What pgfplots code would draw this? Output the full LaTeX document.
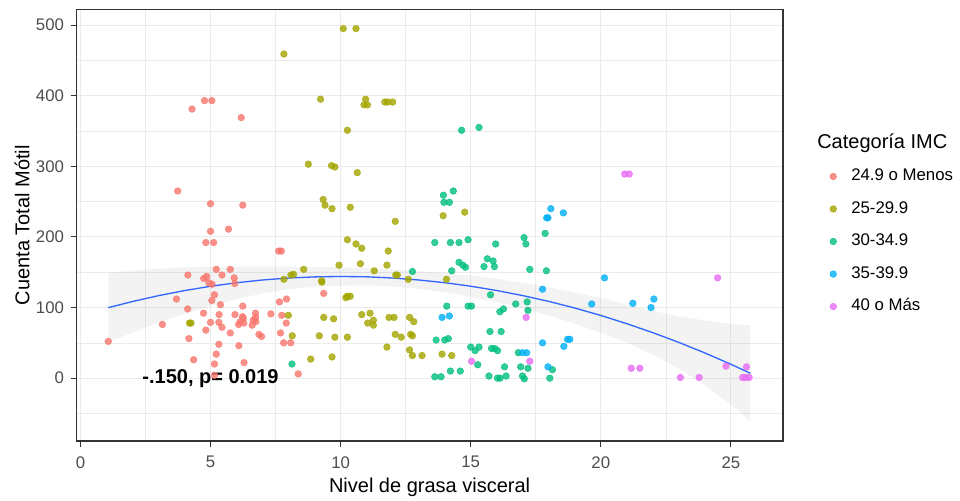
\documentclass[border=0pt]{standalone}
\usepackage{fontspec}
\setmainfont{Liberation Sans}
\usepackage{pgfplots}
\pgfplotsset{compat=1.18}
\usepgfplotslibrary{fillbetween}

\definecolor{imcA}{HTML}{F8766D}
\definecolor{imcB}{HTML}{A3A500}
\definecolor{imcC}{HTML}{00BF7D}
\definecolor{imcD}{HTML}{00B0F6}
\definecolor{imcE}{HTML}{E76BF3}
\definecolor{gridc}{HTML}{EBEBEB}
\definecolor{framec}{HTML}{333333}
\definecolor{tickc}{HTML}{4D4D4D}
\definecolor{smoothc}{HTML}{3366FF}

\pgfplotsset{
  pts/.style={only marks, mark=*, mark size=2.5pt, color=#1, opacity=0.8},
}

\begin{document}
\begin{tikzpicture}
\begin{axis}[
  at={(57.2pt,44.25pt)}, anchor=south west,
  scale only axis, width=530pt, height=323.6pt,
  xmin=-0.16, xmax=27.0, ymin=-89, ymax=522,
  xtick={0,5,...,25}, ytick={0,100,...,500},
  minor xtick={2.5,7.5,...,22.5}, minor ytick={-50,50,...,450},
  grid=both,
  major grid style={gridc, line width=0.8pt},
  minor grid style={gridc, line width=0.45pt},
  axis line style={framec, line width=0.8pt},
  tick align=outside, major tick length=4.2pt, minor tick length=0pt,
  tick style={framec, line width=0.8pt},
  xtick pos=lower, ytick pos=left,
  tick label style={font=\fontsize{12.6}{15}\selectfont, text=tickc},
  xticklabel style={yshift=-3.75pt},
  yticklabel style={xshift=-1.5pt},
  /pgf/number format/assume math mode=true,
  xlabel={Nivel de grasa visceral}, ylabel={Cuenta Total Mótil},
  label style={font=\fontsize{15}{18}\selectfont},
  xlabel style={at={(axis description cs:0.5,-0.1066)}, anchor=center},
  ylabel style={at={(axis description cs:-0.0768,0.5)}, anchor=center},
  legend style={draw=none, fill=none, at={(axis description cs:1.0661,0.4623)},
    anchor=west, font=\fontsize{12.6}{15}\selectfont, inner sep=0pt,
    nodes={text height=9pt, text depth=2.5pt, inner ysep=0pt, inner xsep=0pt},
    row sep=12.9pt, column sep=11pt},
  legend cell align=left,
]

% confidence band of the quadratic fit
\addplot[name path=up, draw=none, forget plot] coordinates {
  (1.07,148.8) (2,152.5) (3,154.8) (4,157.0) (5,158.1) (6,158.1) (7,158.0)
  (8,157.8) (9,157.4) (10,157.0) (11,155.5) (12,153.8) (13,151.5) (14,148.7)
  (15,145.2) (16,140.6) (17,134.9) (18,128.7) (19,121.3) (20,113.3) (21,104.1)
  (22,95.4) (23,87.6) (24,81.7) (25,76.6) (25.75,74.9)};
\addplot[name path=lo, draw=none, forget plot] coordinates {
  (1.07,50.8) (2,64.5) (3,78.8) (4,91.0) (5,102.1) (6,112.1) (7,120.0)
  (8,125.8) (9,129.4) (10,131.0) (11,131.5) (12,129.8) (13,126.5) (14,121.7)
  (15,115.2) (16,107.6) (17,98.9) (18,88.7) (19,77.3) (20,64.3) (21,50.1)
  (22,33.4) (23,13.6) (24,-10.3) (25,-37.4) (25.75,-61.1)};
\addplot[black!40, fill opacity=0.12, draw=none, forget plot] fill between[of=up and lo];

% 24.9 o Menos
\addplot[pts=imcA] coordinates {
  (4.29,381) (4.77,393) (5.05,393) (6.18,369) (3.74,265) (5.0,247) (6.24,245)
  (5.0,208) (5.69,211) (4.82,192) (5.12,192) (7.62,180) (7.72,180)
  (5.22,154) (5.76,154) (4.13,146) (4.85,144) (4.74,141) (4.94,135) (5.06,133)
  (5.44,146) (5.91,142) (5.93,134) (5.15,118) (3.69,112) (5.05,110) (5.38,104)
  (6.24,102) (4.12,98) (4.73,92) (5.33,90) (5.94,90) (6.23,87) (6.26,85)
  (6.08,76) (6.14,80) (6.28,78) (6.73,92) (6.73,86) (6.64,82) (6.74,80) (6.6,75)
  (7.32,91) (7.65,108) (7.92,112) (7.74,89) (7.91,78) (3.15,76) (5.0,79)
  (5.32,79) (5.44,72) (4.82,68) (4.17,56) (5.76,64) (6.86,62) (6.96,59)
  (7.69,64) (7.81,50) (8.08,50) (5.32,48) (6.09,46) (5.22,34) (4.35,26)
  (5.15,20) (6.29,22) (5.15,4) (8.37,6) (1.07,52) (9.35,120)};
\addlegendentry{24.9 o Menos}

% 25-29.9
\addplot[pts=imcB] coordinates {
  (7.82,459) (8.76,303) (10.1,495) (10.59,495) (9.23,395) (10.96,395) (10.9,387)
  (11.03,387) (11.7,391) (11.8,391) (12.0,391) (10.26,351) (9.65,301) (9.78,299)
  (10.64,291) (9.33,253) (9.4,245) (9.67,240) (10.37,242) (12.1,222) (13.94,230)
  (14.77,235) (10.26,196) (10.59,190) (10.81,184) (11.83,180) (9.94,160)
  (10.76,162) (11.29,152) (11.78,160) (8.58,154) (8.09,146) (8.19,147) (7.82,140)
  (9.27,138) (9.28,136) (12.12,146) (12.18,146) (12.6,140) (14.07,140)
  (10.2,114) (10.26,116) (10.37,116) (7.99,89) (9.35,86) (9.73,84) (10.81,90)
  (11.13,92) (11.04,78) (11.26,82) (11.26,75) (11.86,86) (12.05,86) (12.65,86)
  (12.81,80) (4.19,78) (4.25,78) (8.14,60) (9.18,60) (9.78,58) (10.26,58)
  (12.1,62) (12.33,58) (12.69,62) (12.76,60) (11.78,44) (12.65,40) (12.76,32)
  (13.13,32) (13.9,34) (14.27,32) (8.85,27) (9.67,30)};
\addlegendentry{25-29.9}

% 30-34.9
\addplot[pts=imcC] coordinates {
  (8.13,20) (14.65,351) (15.32,355) (14.33,265) (13.95,259) (13.97,249) (14.18,249)
  (13.62,192) (14.22,192) (14.55,192) (14.9,196) (15.96,190) (17.05,199)
  (17.12,190) (17.86,205) (12.76,151) (14.27,152) (14.55,164) (14.7,160)
  (14.8,157) (15.64,169) (15.86,166) (15.51,158) (15.91,158) (17.27,154)
  (17.91,152) (15.76,118) (14.08,102) (14.9,102) (15.03,102) (16.73,105)
  (17.17,108) (17.2,96) (16.12,94) (16.26,98) (15.74,66) (16.17,66)
  (13.67,54) (14.0,54) (14.14,56) (15.0,44) (15.17,39) (15.32,44) (15.8,42)
  (15.92,42) (16.03,39) (16.83,36) (15.27,19) (14.22,10) (14.6,10) (13.62,2)
  (13.86,2) (16.3,16) (16.92,16) (17.2,14) (15.7,3) (16.03,0) (16.13,0)
  (16.36,3) (16.99,3) (17.06,-1) (18.14,12) (18.04,0)};
\addlegendentry{30-34.9}

% 35-39.9
\addplot[pts=imcD] coordinates {
  (13.9,86) (14.18,88) (18.08,240) (18.56,234) (17.92,227) (17.97,227)
  (20.14,142) (17.76,126) (19.65,105) (21.23,106) (22.04,112) (21.93,100)
  (17.76,50) (18.58,45) (18.72,55) (18.81,55) (16.99,36) (17.15,36) (17.97,16)};
\addlegendentry{35-39.9}

% 40 o Más
\addplot[pts=imcE] coordinates {
  (20.92,289) (21.09,289) (17.13,86) (15.03,24) (17.27,24) (21.17,14) (21.5,14)
  (24.49,142) (23.06,1) (23.78,1) (24.81,17) (25.6,16) (25.45,1) (25.57,1) (25.7,1)};
\addlegendentry{40 o Más}

% quadratic fit
\addplot[smoothc, line width=1.0pt, forget plot] coordinates {
  (1.07,99.8) (2,108.5) (3,116.8) (4,124.0) (5,130.1) (6,135.1) (7,139.0)
  (8,141.8) (9,143.4) (10,144.0) (11,143.5) (12,141.8) (13,139.0) (14,135.2)
  (15,130.2) (16,124.1) (17,116.9) (18,108.7) (19,99.3) (20,88.8) (21,77.1)
  (22,64.4) (23,50.6) (24,35.7) (25,19.6) (25.75,6.9)};

\node[font=\bfseries\fontsize{15}{18}\selectfont, text=black] at (axis cs:5.0,0) {-.150, p= 0.019};
\end{axis}
% panel border around the plotting area
\draw[framec, line width=1pt] (57.2pt,44.25pt) rectangle (587.2pt,367.85pt);
\node[anchor=west, font=\fontsize{15}{18}\selectfont, inner sep=0pt] at (612.75pt,267.75pt) {Categoría IMC};
\pgfresetboundingbox
\useasboundingbox (0,0) rectangle (720pt,375pt);
\end{tikzpicture}
\end{document}
